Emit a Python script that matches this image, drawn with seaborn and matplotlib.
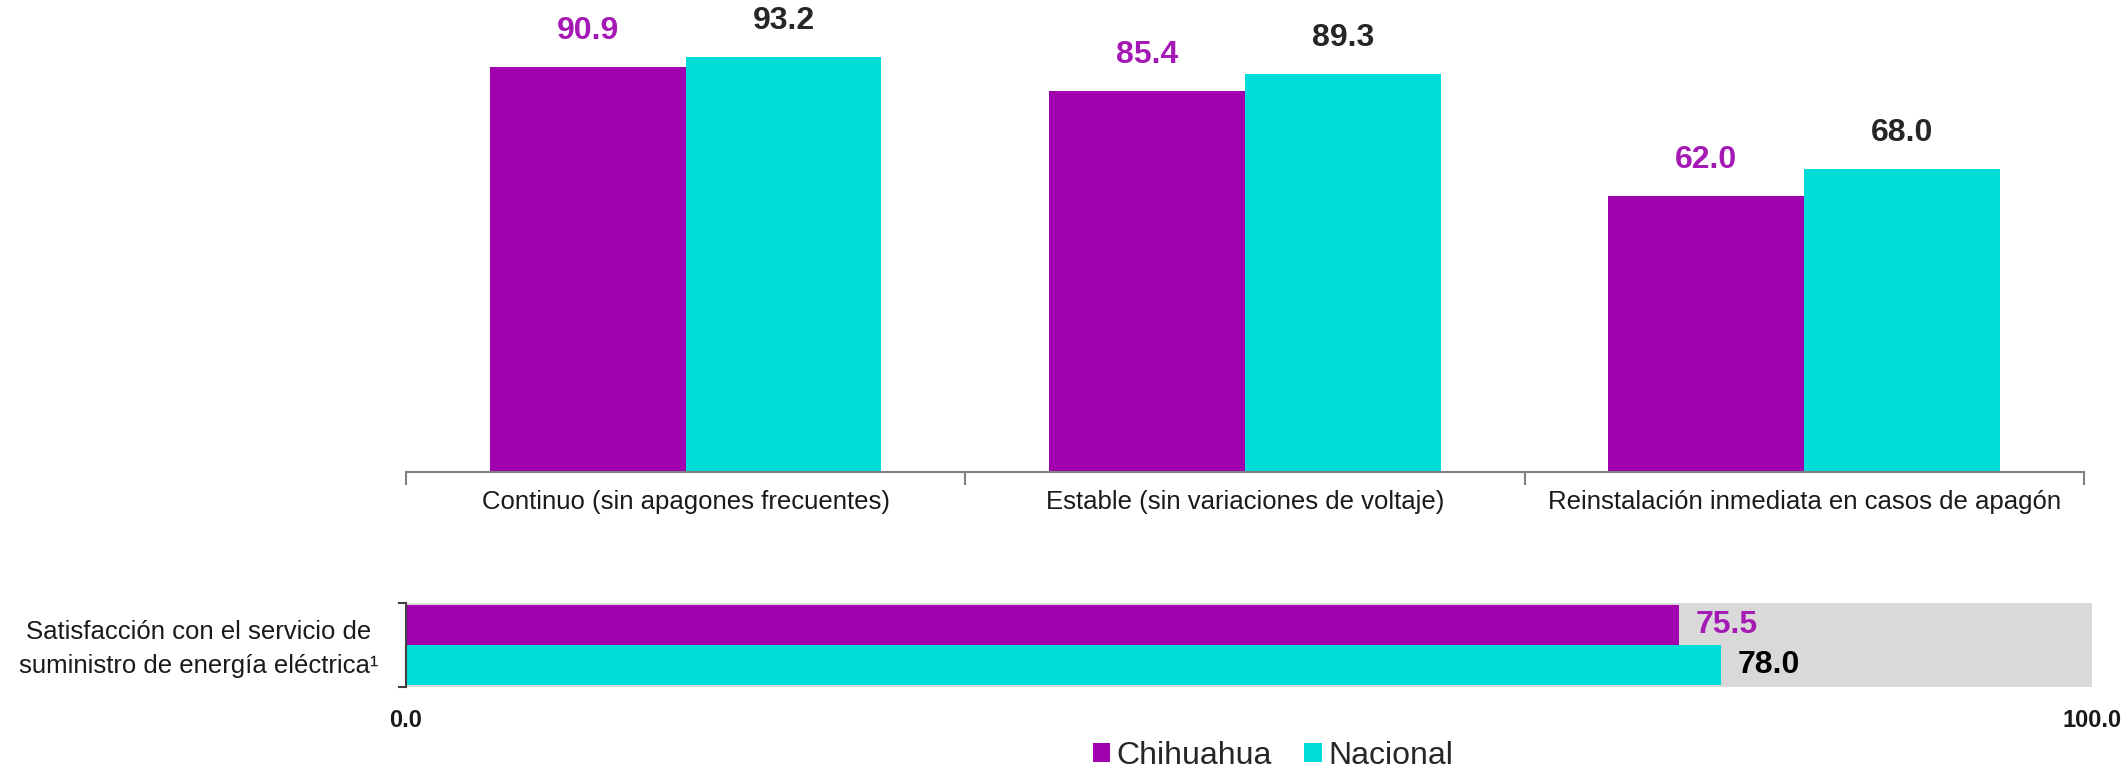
import matplotlib
matplotlib.use("Agg")
import matplotlib.pyplot as plt
import seaborn as sns
import pandas as pd
from matplotlib.patches import Patch

# ---- data ----
categories = ["Continuo (sin apagones frecuentes)",
              "Estable (sin variaciones de voltaje)",
              "Reinstalación inmediata en casos de apagón"]
series = ["Chihuahua", "Nacional"]
chihuahua_vals = [90.9, 85.4, 62.0]
nacional_vals = [93.2, 89.3, 68.0]

sat_label = "Satisfacción con el servicio de\nsuministro de energía eléctrica¹"
sat_chihuahua = 75.5
sat_nacional = 78.0
sat_max = 100.0
sat_ticks = [0, 100]
sat_tick_labels = ["0.0", "100.0"]

purple = "#A100AF"
cyan = "#00DDD8"
gray_bg = "#D9D9D9"
axis_gray = "#808080"
label_colors = ["#A51AB5", "#262626"]

sns.set_theme(style="white")
plt.rcParams["font.family"] = ["Liberation Sans", "DejaVu Sans"]

fig = plt.figure(figsize=(21.23, 7.72), dpi=100)

# ---- top grouped bars ----
ax1 = fig.add_axes([0.1912, 0.389, 0.7904, 0.577])
df_top = pd.DataFrame({
    "cat": categories * 2,
    "serie": [series[0]] * 3 + [series[1]] * 3,
    "val": chihuahua_vals + nacional_vals,
})
sns.barplot(data=df_top, x="cat", y="val", hue="serie", order=categories,
            hue_order=series, palette=[purple, cyan], width=0.7, gap=0,
            saturation=1, legend=False, linewidth=0, edgecolor="none", ax=ax1)
ax1.set_xlim(-0.5, 2.5)
ax1.set_ylim(0, 100)
for s in ["left", "top", "right"]:
    ax1.spines[s].set_visible(False)
ax1.spines["bottom"].set_color(axis_gray)
ax1.spines["bottom"].set_linewidth(1.5)
ax1.set_yticks([])
ax1.set_xticks([-0.5, 0.5, 1.5, 2.5], labels=[""] * 4)
ax1.set_xticks([0, 1, 2], labels=categories, minor=True)
ax1.tick_params(axis="x", which="major", direction="out", length=9.5,
                width=1.5, color=axis_gray, bottom=True)
ax1.tick_params(axis="x", which="minor", length=0, pad=13.5,
                labelsize=18.5, labelcolor="#1a1a1a", bottom=True)
ax1.set_xlabel("")
ax1.set_ylabel("")
for cont, col in zip(ax1.containers, label_colors):
    ax1.bar_label(cont, fmt="%.1f", padding=15, color=col, fontsize=23,
                  fontweight="bold", clip_on=False)

# ---- bottom horizontal bars ----
ax2 = fig.add_axes([0.1912, 0.110, 0.7942, 0.109])
sns.barplot(x=[sat_max], y=[sat_label], color=gray_bg, width=1.0,
            saturation=1, orient="h", linewidth=0, edgecolor="none", ax=ax2)
df_bot = pd.DataFrame({
    "cat": [sat_label, sat_label],
    "serie": series,
    "val": [sat_chihuahua, sat_nacional],
})
sns.barplot(data=df_bot, x="val", y="cat", hue="serie", hue_order=series,
            palette=[purple, cyan], width=0.95, gap=0, saturation=1,
            orient="h", legend=False, linewidth=0, edgecolor="none", ax=ax2)
ax2.set_xlim(0, sat_max)
ax2.set_ylim(0.5, -0.5)
for s in ["top", "right", "bottom"]:
    ax2.spines[s].set_visible(False)
ax2.spines["left"].set_color("#404040")
ax2.spines["left"].set_linewidth(1.5)
ax2.set_yticks([-0.5, 0.5], labels=["", ""])
ax2.tick_params(axis="y", direction="out", length=6, width=1.5,
                color="#404040", left=True)
ax2.set_xticks(sat_ticks, labels=sat_tick_labels)
ax2.tick_params(axis="x", length=0, pad=15.5, labelsize=17, labelcolor="#1a1a1a")
for t in ax2.get_xticklabels():
    t.set_fontweight("bold")
ax2.set_xlabel("")
ax2.set_ylabel("")
ax2.text(-0.1228, 0.45, sat_label, transform=ax2.transAxes, ha="center",
         va="center", fontsize=18.5, color="#1a1a1a", linespacing=1.55)
for cont, col in zip(ax2.containers[1:], ["#A51AB5", "#000000"]):
    ax2.bar_label(cont, fmt="%.1f", padding=12, color=col, fontsize=23,
                  fontweight="bold")

# ---- legend ----
handles = [Patch(facecolor=purple, edgecolor="none", label=series[0]),
           Patch(facecolor=cyan, edgecolor="none", label=series[1])]
fig.legend(handles=handles, loc="center", bbox_to_anchor=(0.5996, 0.021),
           ncol=2, frameon=False, fontsize=23, handlelength=0.55,
           handleheight=0.55, handletextpad=0.2, columnspacing=1.0,
           borderpad=0, borderaxespad=0)

fig.savefig("out.png", dpi=100, facecolor="white")
